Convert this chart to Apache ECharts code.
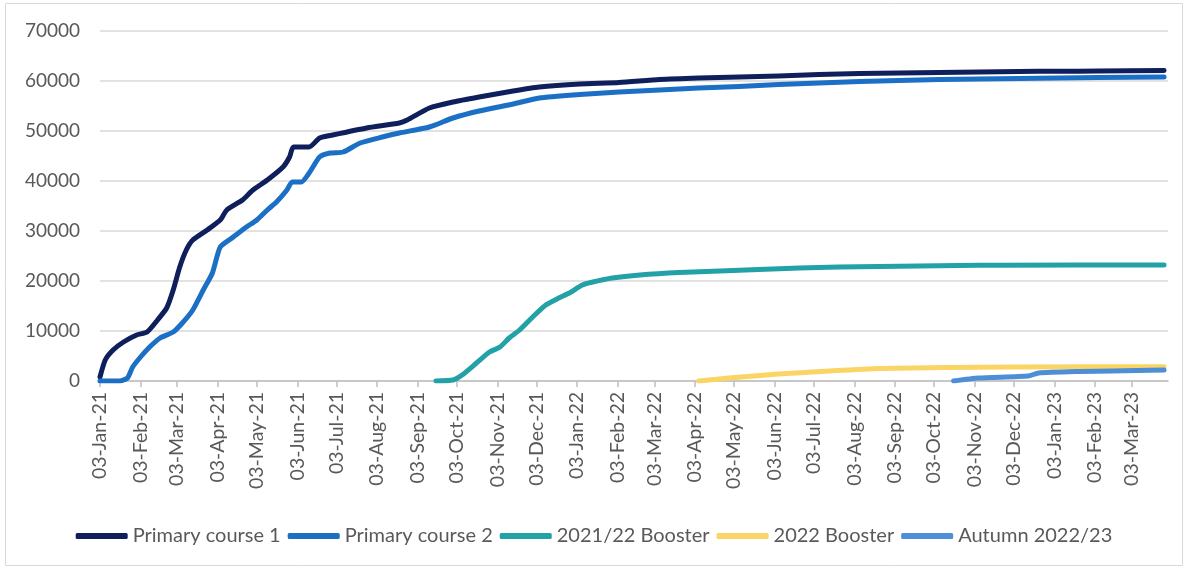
<!DOCTYPE html>
<html>
<head>
<meta charset="utf-8">
<script src="https://cdn.jsdelivr.net/npm/echarts@6/dist/echarts.min.js"></script>
<style>
  html, body { margin: 0; padding: 0; background: #fff; }
  #chart { width: 1188px; height: 571px; }
</style>
</head>
<body>
<div id="chart"></div>
<script>
// tick labels on the x axis (3rd of each month)
const tickLabels = [
  '03-Jan-21', '03-Feb-21', '03-Mar-21', '03-Apr-21', '03-May-21', '03-Jun-21',
  '03-Jul-21', '03-Aug-21', '03-Sep-21', '03-Oct-21', '03-Nov-21', '03-Dec-21',
  '03-Jan-22', '03-Feb-22', '03-Mar-22', '03-Apr-22', '03-May-22', '03-Jun-22',
  '03-Jul-22', '03-Aug-22', '03-Sep-22', '03-Oct-22', '03-Nov-22', '03-Dec-22',
  '03-Jan-23', '03-Feb-23', '03-Mar-23'
];
const yTicks = [0, 10000, 20000, 30000, 40000, 50000, 60000, 70000];

// Primary course 1
const pc1Dates = ['2021-01-03','2021-01-07','2021-01-13','2021-01-21','2021-01-31','2021-02-08','2021-02-16','2021-02-23',
  '2021-02-28','2021-03-05','2021-03-10','2021-03-15','2021-03-26','2021-04-05','2021-04-10','2021-04-22','2021-04-30',
  '2021-05-11','2021-05-23','2021-05-28','2021-05-31','2021-06-12','2021-06-20','2021-06-30','2021-07-26','2021-08-20',
  '2021-08-26','2021-09-12','2021-09-30','2021-10-20','2021-11-15','2021-12-05','2022-01-05','2022-02-04','2022-03-07',
  '2022-04-06','2022-05-07','2022-06-06','2022-07-07','2022-08-07','2022-09-06','2022-10-07','2022-11-06','2022-12-07',
  '2023-01-06','2023-02-06','2023-03-28'];
const pc1Values = [800, 4200, 6200, 7800, 9200, 9800, 12200, 14600,
  18200, 22800, 26200, 28200, 30200, 32200, 34200, 36200, 38200,
  40200, 42800, 44800, 46800, 46800, 48600, 49200, 50600, 51600,
  52200, 54600, 55800, 56800, 58000, 58800, 59400, 59700, 60300,
  60600, 60800, 61000, 61300, 61500, 61600, 61700, 61800, 61900,
  61950, 62000, 62100];

// Primary course 2
const pc2Dates = ['2021-01-03','2021-01-18','2021-01-24','2021-01-28','2021-02-03','2021-02-10','2021-02-18','2021-02-28',
  '2021-03-07','2021-03-15','2021-03-23','2021-03-30','2021-04-05','2021-04-15','2021-04-25','2021-05-03','2021-05-11',
  '2021-05-18','2021-05-26','2021-05-30','2021-06-06','2021-06-12','2021-06-20','2021-06-28','2021-07-08','2021-07-21',
  '2021-08-07','2021-08-20','2021-09-12','2021-09-30','2021-10-20','2021-11-15','2021-12-05','2022-01-05','2022-02-04',
  '2022-03-07','2022-04-06','2022-05-07','2022-06-06','2022-07-07','2022-08-07','2022-09-06','2022-10-07','2022-11-06',
  '2022-12-07','2023-01-06','2023-02-06','2023-03-28'];
const pc2Values = [0, 0, 600, 2800, 4800, 6800, 8600, 9800,
  11600, 14200, 18200, 21600, 26800, 28800, 30800, 32200, 34200,
  35800, 38200, 39800, 39800, 41600, 44800, 45600, 45800, 47600,
  48800, 49600, 50800, 52600, 54000, 55400, 56600, 57300, 57800,
  58200, 58600, 58900, 59300, 59600, 59900, 60100, 60300, 60400,
  60500, 60600, 60700, 60800];

// 2021/22 Booster
const b21Dates = ['2021-09-17','2021-09-30','2021-10-07','2021-10-18','2021-10-28','2021-11-05','2021-11-12','2021-11-20',
  '2021-11-30','2021-12-10','2021-12-20','2021-12-28','2022-01-07','2022-01-15','2022-01-30','2022-02-20','2022-03-22',
  '2022-04-22','2022-05-22','2022-06-22','2022-07-22','2022-08-22','2022-09-21','2022-10-22','2022-11-22','2023-03-28'];
const b21Values = [0, 200, 1200, 3600, 5800, 6800, 8600, 10200,
  12800, 15200, 16600, 17600, 19200, 19800, 20600, 21200, 21700,
  22000, 22300, 22600, 22800, 22900, 23000, 23100, 23150, 23200];

// 2022 Booster
const b22Dates = ['2022-04-06','2022-04-29','2022-06-06','2022-07-15','2022-08-22','2022-10-12','2022-12-01','2023-03-28'];
const b22Values = [0, 600, 1400, 2000, 2500, 2700, 2800, 2850];

// Autumn 2022/23
const autDates = ['2022-10-18','2022-11-06','2022-12-14','2022-12-22','2023-01-22','2023-02-16','2023-03-28'];
const autValues = [0, 600, 1000, 1600, 1900, 2000, 2200];

const DAY = 86400000;
const start = Date.UTC(2021, 0, 3);
const monthIdx = { Jan: 0, Feb: 1, Mar: 2, Apr: 3, May: 4, Jun: 5, Jul: 6, Aug: 7, Sep: 8, Oct: 9, Nov: 10, Dec: 11 };
// day number since 03-Jan-21 for each tick label
const tickDays = tickLabels.map(s => {
  const p = s.split('-');
  return Math.round((Date.UTC(2000 + Number(p[2]), monthIdx[p[1]], Number(p[0])) - start) / DAY);
});

function dayOf(iso) {
  const p = iso.split('-');
  return Math.round((Date.UTC(Number(p[0]), Number(p[1]) - 1, Number(p[2])) - start) / DAY);
}

function pairs(dates, values) {
  return dates.map((d, i) => [dayOf(d), values[i]]);
}

const myChart = echarts.init(document.getElementById('chart'));
const font = 'Lato, "Open Sans", sans-serif';

function line(name, color, dates, values) {
  return {
    name: name,
    type: 'line',
    data: pairs(dates, values),
    showSymbol: false,
    symbol: 'none',
    smooth: 0.2,
    lineStyle: { color: color, width: 5, cap: 'round', join: 'round' },
    itemStyle: { color: color }
  };
}

myChart.setOption({
  animation: false,
  textStyle: { fontFamily: font },
  graphic: [{
    type: 'rect',
    shape: { x: 5.5, y: 3.5, width: 1177, height: 562 },
    style: { fill: 'none', stroke: '#d9d9d9', lineWidth: 1 },
    silent: true
  }],
  grid: { left: 100, right: 20, top: 31, bottom: 190 },
  legend: {
    bottom: 20,
    left: 'center',
    icon: 'roundRect',
    itemWidth: 52,
    itemHeight: 6,
    itemGap: 7,
    textStyle: { color: '#595959', fontSize: 20, fontFamily: font },
    data: ['Primary course 1', 'Primary course 2', '2021/22 Booster', '2022 Booster', 'Autumn 2022/23']
  },
  xAxis: {
    type: 'value',
    min: 0,
    max: dayOf('2023-03-31'),
    splitLine: { show: false },
    axisLine: { lineStyle: { color: '#bfbfbf', width: 1.5 } },
    axisTick: { show: true, length: 6, customValues: tickDays, lineStyle: { color: '#bfbfbf', width: 1.5 } },
    axisLabel: {
      customValues: tickDays,
      rotate: 90,
      margin: 11,
      color: '#595959',
      fontSize: 19.5,
      fontFamily: font,
      formatter: v => {
        const i = tickDays.indexOf(v);
        return i >= 0 ? tickLabels[i] : '';
      }
    }
  },
  yAxis: {
    type: 'value',
    min: yTicks[0],
    max: yTicks[yTicks.length - 1],
    interval: 10000,
    axisLine: { show: false },
    axisTick: { show: false },
    splitLine: { lineStyle: { color: '#d9d9d9', width: 1.5 } },
    axisLabel: { color: '#595959', fontSize: 19, margin: 20, fontFamily: font, formatter: v => String(v) }
  },
  series: [
    line('Primary course 1', '#0e1f5c', pc1Dates, pc1Values),
    line('Primary course 2', '#1b6fc4', pc2Dates, pc2Values),
    line('2021/22 Booster', '#22a1a7', b21Dates, b21Values),
    line('2022 Booster', '#fad566', b22Dates, b22Values),
    line('Autumn 2022/23', '#4d8ed7', autDates, autValues)
  ]
});
</script>
</body>
</html>
